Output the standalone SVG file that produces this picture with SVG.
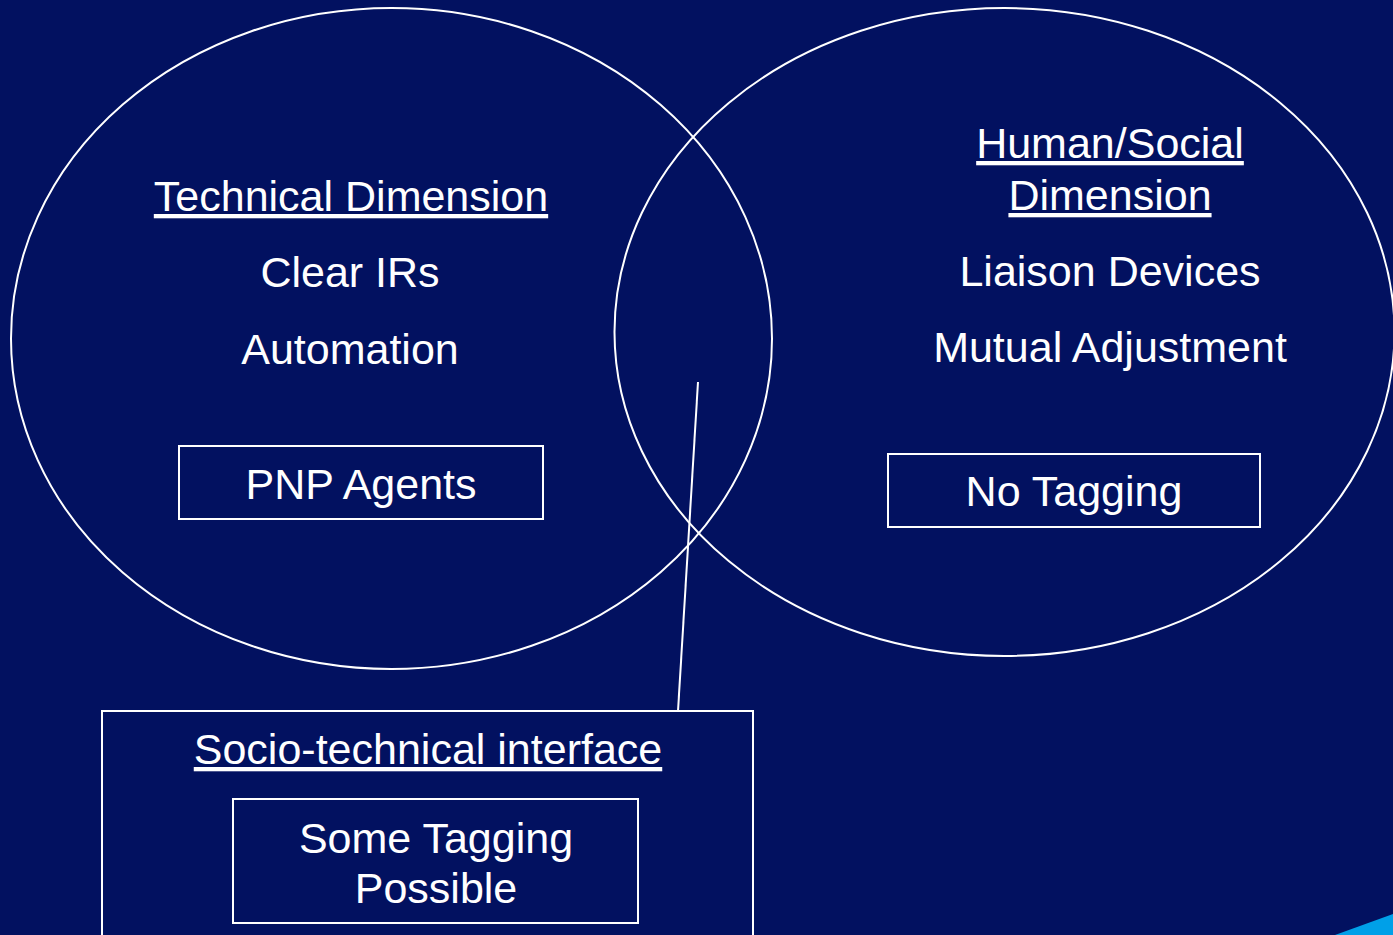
<svg xmlns="http://www.w3.org/2000/svg" width="1393" height="935" viewBox="0 0 1393 935">
<style>
.ln{fill:none;stroke:#fff;stroke-width:2}
.t{font-family:"Liberation Sans",Arial,sans-serif;font-size:43px;fill:#fff;text-anchor:middle}
.u{text-decoration:underline}
</style>
<rect width="1393" height="935" fill="#021160"/>
<polygon points="1335,935 1393,914 1393,935" fill="#00A0E8"/>
<g id="technical">
<ellipse class="ln" cx="391.5" cy="338.5" rx="380.5" ry="330.5"/>
<text class="t u" x="351" y="211">Technical Dimension</text>
<text class="t" x="350" y="287">Clear IRs</text>
<text class="t" x="350" y="364">Automation</text>
</g>
<g id="pnp">
<rect class="ln" x="179" y="446" width="364" height="73"/>
<text class="t" x="361" y="499">PNP Agents</text>
</g>
<g id="human">
<ellipse class="ln" cx="1004.5" cy="332" rx="390" ry="324"/>
<text class="t u" x="1110" y="158">Human/Social</text>
<text class="t u" x="1110" y="210">Dimension</text>
<text class="t" x="1110" y="286">Liaison Devices</text>
<text class="t" x="1110" y="362">Mutual Adjustment</text>
</g>
<g id="notagging">
<rect class="ln" x="888" y="454" width="372" height="73"/>
<text class="t" x="1074" y="506">No Tagging</text>
</g>
<g id="socio">
<rect class="ln" x="102" y="711" width="651" height="240"/>
<text class="t u" x="428" y="764">Socio-technical interface</text>
</g>
<g id="some">
<rect class="ln" x="233" y="799" width="405" height="124"/>
<text class="t" x="436" y="853">Some Tagging</text>
<text class="t" x="436" y="903">Possible</text>
</g>
<g id="connectors">
<line class="ln" x1="698" y1="382" x2="678" y2="711"/>
</g>
</svg>
